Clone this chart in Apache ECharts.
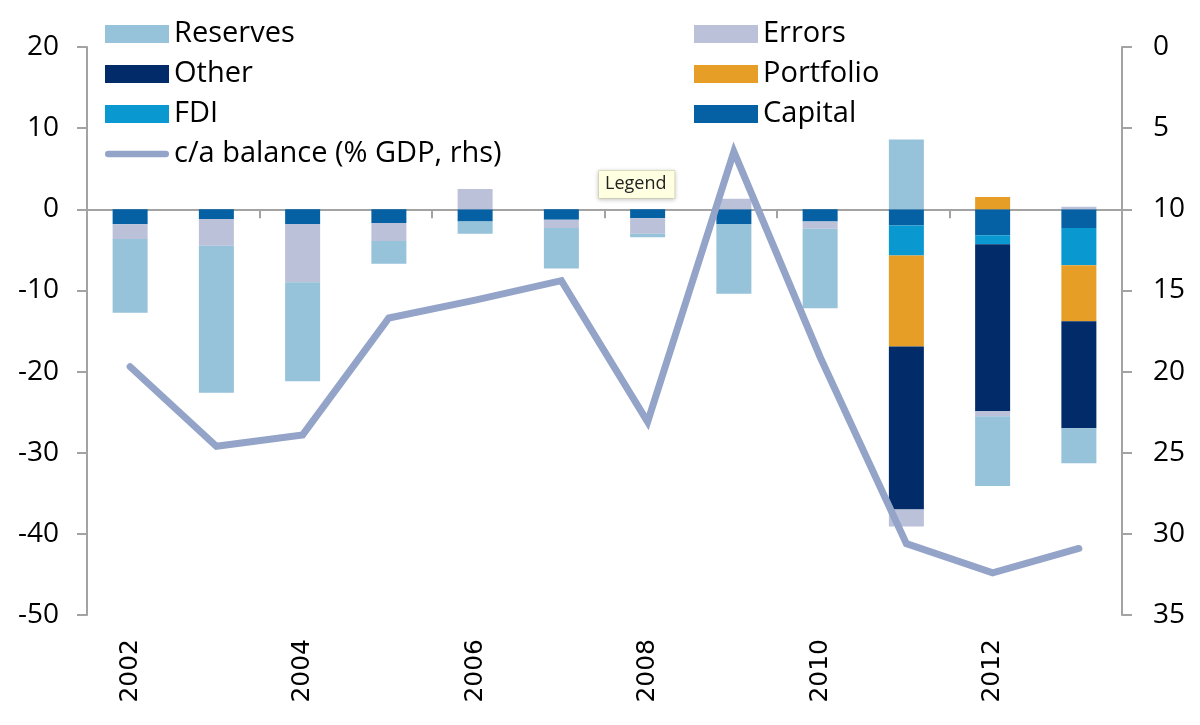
<!DOCTYPE html>
<html>
<head>
<meta charset="utf-8">
<script src="https://cdn.jsdelivr.net/npm/echarts@6/dist/echarts.min.js"></script>
<style>
  html, body { margin: 0; padding: 0; background: #ffffff; }
  #chart { width: 1200px; height: 725px; }
</style>
</head>
<body>
<div id="chart"></div>
<script>
// ---- Data ----
const years = ['2002','2003','2004','2005','2006','2007','2008','2009','2010','2011','2012','2013'];
const capital   = [-1.85, -1.2, -1.8, -1.7, -1.5, -1.3, -1.1, -1.8, -1.5, -2.0, -3.2, -2.3];
const fdi       = [null, null, null, null, null, null, null, null, null, -3.7, -1.1, -4.6];
const portfolio = [null, null, null, null, null, null, null, null, null, -11.2, 1.5, -6.9];
const other     = [null, null, null, null, null, null, null, null, null, -20.1, -20.6, -13.2];
const errors    = [-1.8, -3.3, -7.2, -2.2, 2.5, -1.0, -1.9, 1.3, -0.9, -2.1, -0.6, 0.3];
const reserves  = [-9.1, -18.1, -12.2, -2.8, -1.5, -5.0, -0.45, -8.6, -9.8, 8.6, -8.6, -4.3];
const caBalance = [19.7, 24.6, 23.9, 16.7, 15.6, 14.4, 23.1, 6.45, 19.1, 30.6, 32.4, 30.9];

const leftTicks = { min: -50, max: 20, interval: 10 };
const rightTicks = { min: 0, max: 35, interval: 5 };

const colors = {
  Reserves: '#96c2da',
  Errors: '#bbc1d9',
  Other: '#022c69',
  Portfolio: '#e79e27',
  FDI: '#0a98d0',
  Capital: '#0560a4',
  line: '#94a4c8'
};
const axisGrey = '#a3a3a3';
const FONT = '"Open Sans", "Liberation Sans", sans-serif';
const LINE_NAME = 'c/a balance (% GDP, rhs)';

function barSeries(name, data) {
  return {
    name: name,
    type: 'bar',
    stack: 'flows',
    xAxisIndex: 1,
    yAxisIndex: 0,
    barWidth: 35,
    itemStyle: { color: colors[name] },
    emphasis: { disabled: true },
    data: data
  };
}

const chart = echarts.init(document.getElementById('chart'), null, { renderer: 'canvas' });

const legendCommon = {
  orient: 'vertical',
  top: 14,
  itemWidth: 64,
  itemHeight: 18,
  itemGap: 10,
  selectedMode: false,
  symbolKeepAspect: true,
  textStyle: { fontFamily: FONT, fontSize: 29, color: '#000', lineHeight: 30 }
};

chart.setOption({
  animation: false,
  backgroundColor: '#ffffff',
  grid: { left: 87, right: 78, top: 47, bottom: 110, containLabel: false },
  legend: [
    Object.assign({}, legendCommon, {
      left: 100,
      data: [
        { name: 'Reserves', icon: 'rect' },
        { name: 'Other', icon: 'rect' },
        { name: 'FDI', icon: 'rect' },
        { name: LINE_NAME, icon: 'path://M3.5,0 L66.5,0 A3.5,3.5 0 0 1 66.5,7 L3.5,7 A3.5,3.5 0 0 1 3.5,0 Z' }
      ]
    }),
    Object.assign({}, legendCommon, {
      left: 689,
      data: [
        { name: 'Errors', icon: 'rect' },
        { name: 'Portfolio', icon: 'rect' },
        { name: 'Capital', icon: 'rect' }
      ]
    })
  ],
  xAxis: [
    {
      type: 'category',
      data: years,
      position: 'bottom',
      axisLine: { show: false, onZero: false },
      axisTick: { show: false },
      axisLabel: {
        interval: 1,
        rotate: 90,
        margin: 24,
        fontFamily: '"DejaVu Sans", sans-serif',
        fontSize: 25,
        color: '#000'
      },
      splitLine: { show: false }
    },
    {
      type: 'category',
      data: years,
      position: 'bottom',
      axisLine: { show: true, onZero: true, onZeroAxisIndex: 0, lineStyle: { color: axisGrey, width: 2 } },
      axisTick: { show: true, interval: 1, length: 9, lineStyle: { color: axisGrey, width: 2 } },
      axisLabel: { show: false },
      splitLine: { show: false }
    }
  ],
  yAxis: [
    {
      type: 'value',
      position: 'left',
      min: leftTicks.min, max: leftTicks.max, interval: leftTicks.interval,
      axisLine: { show: true, lineStyle: { color: axisGrey, width: 2 } },
      axisTick: { show: true, length: 10, lineStyle: { color: axisGrey, width: 2 } },
      axisLabel: { fontFamily: FONT, fontSize: 28, color: '#000', margin: 28 },
      splitLine: { show: false }
    },
    {
      type: 'value',
      position: 'right',
      inverse: true,
      min: rightTicks.min, max: rightTicks.max, interval: rightTicks.interval,
      axisLine: { show: true, lineStyle: { color: axisGrey, width: 2 } },
      axisTick: { show: true, length: 10, lineStyle: { color: axisGrey, width: 2 } },
      axisLabel: { fontFamily: FONT, fontSize: 28, color: '#000', margin: 31 },
      splitLine: { show: false }
    }
  ],
  series: [
    barSeries('Capital', capital),
    barSeries('FDI', fdi),
    barSeries('Portfolio', portfolio),
    barSeries('Other', other),
    barSeries('Errors', errors),
    barSeries('Reserves', reserves),
    {
      name: LINE_NAME,
      type: 'line',
      xAxisIndex: 1,
      yAxisIndex: 1,
      symbol: 'none',
      z: 5,
      lineStyle: { color: colors.line, width: 7, cap: 'round', join: 'miter' },
      itemStyle: { color: colors.line },
      emphasis: { disabled: true },
      data: caBalance
    }
  ],
  graphic: [
    {
      type: 'text',
      left: 598,
      top: 170,
      z: 100,
      style: {
        text: 'Legend',
        fill: '#222',
        font: '18px "Open Sans", sans-serif',
        backgroundColor: '#ffffe1',
        borderColor: '#e4e4c8',
        borderWidth: 1,
        padding: [4, 8, 5, 6],
        shadowBlur: 4,
        shadowColor: 'rgba(0,0,0,0.18)',
        shadowOffsetY: 1
      }
    }
  ]
});
</script>
</body>
</html>
